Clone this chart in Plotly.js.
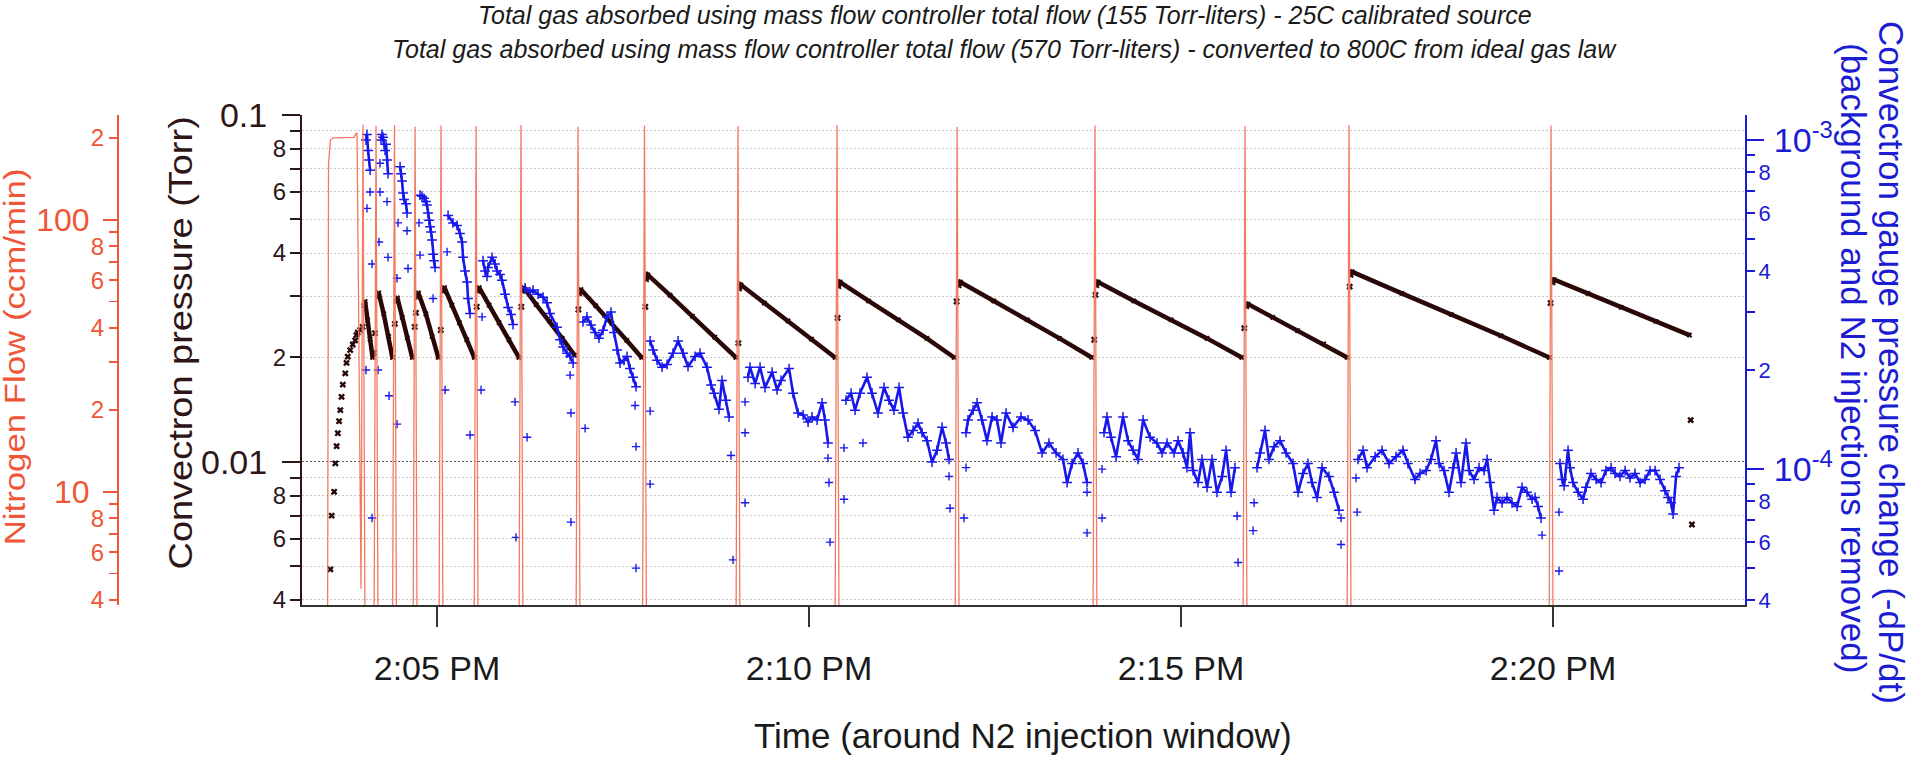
<!DOCTYPE html>
<html>
<head>
<meta charset="utf-8">
<script src="https://cdn.plot.ly/plotly-3.0.1.min.js"></script>
<style>
  html, body { margin: 0; padding: 0; background: #fff; overflow: hidden; }
  #chart { width: 1915px; height: 758px; }
  /* the two left axis captions are set in a tall, narrow face: stretch them along the text direction */
  .annotation[data-index="2"] .annotation-text { transform-box: fill-box; transform-origin: center; transform: scaleX(1.2); }
  .annotation[data-index="3"] .annotation-text { transform-box: fill-box; transform-origin: center; transform: scaleX(1.15); }
</style>
</head>
<body>
<div id="chart"></div>
<script>
// Run date (only the clock time is shown on the axis); times below are seconds after 14:00:00
const runDate = '2014-06-05';

// ---- Mass flow controller: nitrogen flow (ccm/min) ----
const n2Sec = [191, 211.5, 212.5, 214, 216, 226, 233, 234.5, 235.5, 238.7, 240.3, 242.3,
  248.8, 250.8, 252.8, 263.7, 265.7, 267.7, 280.3, 282.3, 284.3, 301.2, 303.2, 305.2,
  329.5, 331.5, 333.5, 365.7, 367.7, 369.7, 411.7, 413.7, 415.7, 465.3, 467.3, 469.3,
  540.7, 542.7, 544.7, 620.6, 622.6, 624.6, 717.4, 719.4, 721.4, 828.6, 830.6, 832.6,
  949.6, 951.6, 953.6, 1033.5, 1035.5, 1037.5, 1196.4, 1198.4, 1200.4, 1355];
const n2Flow = [1, 1, 160, 196, 200, 200, 201, 207, 208, 4.4, 224, 1,
  1, 221, 1, 1, 223, 1, 1, 220, 1, 1, 222, 1,
  1, 221, 1, 1, 223, 1, 1, 220, 1, 1, 222, 1,
  1, 221, 1, 1, 223, 1, 1, 220, 1, 1, 222, 1,
  1, 221, 1, 1, 223, 1, 1, 222, 1, 1];

// ---- Convectron pressure (Torr) ----
// initial fill
const riseSec = [214, 215, 217, 218, 219, 220, 221, 222, 223, 224, 226, 227, 228, 230, 232, 234, 235, 236, 238];
const riseTorr = [0.0049, 0.0070, 0.0082, 0.0099, 0.0111, 0.0121, 0.0131, 0.0141, 0.0154, 0.0167,
  0.0180, 0.0193, 0.0201, 0.0210, 0.0218, 0.0224, 0.0232, 0.0236, 0.0240];
// absorption decays between injections (null separates injections)
const decaySec = [
  241, 242, 244, 246, 248, null,
  252, 253, 257, 261, 264, null,
  267, 268, 272, 276, 280, null,
  284, 285, 291, 296, 301, null,
  305, 306, 312, 318, 324, 330, null,
  333, 334, 342, 350, 358, 366, null,
  369, 370, 380, 391, 401, 411, null,
  415, 416, 428, 441, 453, 465, null,
  469, 470, 488, 506, 524, 541, null,
  544, 545, 564, 583, 602, 621, null,
  624, 625, 648, 672, 695, 717, null,
  721, 722, 749, 776, 802, 828, null,
  832, 833, 862, 892, 921, 949, null,
  953, 954, 974, 994, 1015, 1034, null,
  1037, 1038, 1078, 1118, 1158, 1197, null,
  1200, 1201, 1228, 1255, 1283, 1310];
const decayTorr = [
  0.0282, 0.0290, 0.0256, 0.0226, 0.0200, null,
  0.0298, 0.0307, 0.0267, 0.0230, 0.0200, null,
  0.0290, 0.0297, 0.0261, 0.0228, 0.0200, null,
  0.0298, 0.0307, 0.0267, 0.0230, 0.0200, null,
  0.0310, 0.0318, 0.0283, 0.0252, 0.0225, 0.0200, null,
  0.0310, 0.0318, 0.0283, 0.0252, 0.0225, 0.0200, null,
  0.0310, 0.0318, 0.0284, 0.0254, 0.0227, 0.0203, null,
  0.0305, 0.0314, 0.0282, 0.0251, 0.0224, 0.0200, null,
  0.0335, 0.0346, 0.0302, 0.0263, 0.0229, 0.0200, null,
  0.0315, 0.0324, 0.0287, 0.0255, 0.0226, 0.0200, null,
  0.0320, 0.0330, 0.0291, 0.0257, 0.0227, 0.0200, null,
  0.0322, 0.0330, 0.0291, 0.0257, 0.0227, 0.0200, null,
  0.0322, 0.0330, 0.0291, 0.0257, 0.0227, 0.0200, null,
  0.0280, 0.0285, 0.0261, 0.0239, 0.0219, 0.0200, null,
  0.0345, 0.0353, 0.0306, 0.0266, 0.0231, 0.0200, null,
  0.0328, 0.0335, 0.0306, 0.0279, 0.0254, 0.0232];
// readings taken during the injections themselves
const injSec = [240, 249, 250, 266, 282, 283, 303, 332, 368, 414, 468, 543, 623, 719, 830, 831, 951, 1036, 1198, 1311, 1312];
const injTorr = [0.0245, 0.0206, 0.0235, 0.0250, 0.0245, 0.0269, 0.0240, 0.0280, 0.0280, 0.0275, 0.0280,
  0.0220, 0.0260, 0.0290, 0.0225, 0.0303, 0.0243, 0.0320, 0.0287, 0.0132, 0.0066];

// ---- -dP/dt (Torr/s), background and injections removed ----
const dpdtSec = [
  242.7, 243.5, 244.4, 245.2, 246.0, null,
  254.8, 255.6, 256.4, 258.1, 258.9, 259.7, 260.5, null,
  270.2, 271.0, 271.8, 272.6, 273.4, 275.0, 275.8, null,
  286.3, 287.9, 289.5, 291.1, 291.9, 292.7, 293.5, 294.4, 295.2, 296.0, 296.8, 297.6, 298.4, null,
  308.9, 312.9, 316.1, 318.5, 320.2, 321.0, 322.6, 324.2, 325.0, 326.6, null,
  337.1, 338.7, 340.3, 341.1, 344.4, 346.8, 348.4, 350.8, 352.4, 354.8, 357.3, 359.7, 361.3, null,
  371.0, 375.0, 377.4, 381.5, 385.5, 388.7, 391.1, 396.8, 399.2, 401.6, 404.8, 407.3, 409.7, null,
  417.7, 420.9, 424.2, 427.4, 430.6, 433.9, 437.1, 440.3, 442.7, 445.2, 447.6, 450.8, 453.2, 455.6, 458.1, 460.5, null,
  471.8, 474.2, 477.4, 481.5, 485.5, 490.3, 494.4, 498.4, 502.4, 508.1, 512.1, 517.7, 521.0, 523.4, 527.4, 529.8, 533.1, 535.5, null,
  550.8, 552.4, 556.5, 560.5, 564.5, 570.2, 574.2, 577.4, 583.9, 587.1, 591.1, 595.2, 599.2, 602.4, 606.5, 610.5, 612.9, 615.3, null,
  629.8, 633.9, 637.1, 641.1, 646.8, 650.8, 655.6, 660.5, 664.5, 668.5, 672.6, 675.8, 679.8, 683.9, 687.9, 691.1, 695.2, 699.2, 703.2, 707.3, 710.5, 712.9, null,
  726.6, 728.2, 732.3, 735.5, 739.5, 743.5, 747.6, 751.6, 754.8, 758.9, 764.5, 770.9, 776.6, 782.3, 787.9, 793.5, 799.2, 804.8, 808.1, 812.1, 816.9, 821.0, 824.2, null,
  837.9, 840.3, 843.5, 847.6, 853.2, 857.3, 861.3, 865.3, 869.4, 875.0, 880.6, 884.7, 888.7, 894.4, 897.6, 901.6, 904.8, 907.3, 909.7, 913.7, 916.9, 921.0, 925.0, 929.0, 933.1, 936.3, 940.3, 943.5, null,
  961.3, 963.7, 967.7, 970.9, 975.0, 979.8, 984.7, 990.3, 994.4, 998.4, 1002.4, 1005.6, 1009.7, 1013.7, 1019.3, 1023.4, 1027.4, null,
  1042.7, 1046.8, 1050.0, 1056.5, 1062.1, 1067.7, 1073.4, 1079.0, 1083.0, 1088.7, 1092.7, 1097.6, 1101.6, 1105.6, 1108.1, 1112.1, 1116.1, 1119.4, 1121.8, 1125.8,
  1129.8, 1132.3, 1136.3, 1140.3, 1144.4, 1146.8, 1149.2, 1152.4, 1154.8, 1158.9, 1162.9, 1166.9, 1171.0, 1175.0, 1179.0, 1183.1, 1185.5, 1187.9, 1190.3, null,
  1205.6, 1207.3, 1208.9, 1212.1, 1213.7, 1216.1, 1220.2, 1224.2, 1226.6, 1230.6, 1234.7, 1238.7, 1242.7, 1246.8, 1250.0, 1254.0, 1258.1, 1262.1, 1266.1, 1270.2,
  1274.2, 1278.2, 1282.3, 1286.3, 1290.3, 1292.7, 1295.2, 1296.8, 1299.2, 1301.6];
const dpdt = [
  1.0e-3, 1.04e-3, 9.3e-4, 8.7e-4, 8.1e-4, null,
  1.0e-3, 1.04e-3, 1.02e-3, 9.3e-4, 9.7e-4, 8.7e-4, 7.9e-4, null,
  8.3e-4, 7.9e-4, 7.5e-4, 6.9e-4, 6.6e-4, 6.4e-4, 6.0e-4, null,
  6.8e-4, 6.75e-4, 6.65e-4, 6.5e-4, 6.35e-4, 6.0e-4, 5.7e-4, 5.45e-4, 5.25e-4, 4.97e-4, 4.5e-4, 4.3e-4, 4.1e-4, null,
  5.9e-4, 5.6e-4, 5.5e-4, 5.2e-4, 4.9e-4, 4.4e-4, 4.0e-4, 3.7e-4, 3.3e-4, 2.97e-4, null,
  4.3e-4, 4.0e-4, 3.85e-4, 4.1e-4, 4.4e-4, 4.2e-4, 4.0e-4, 3.9e-4, 3.75e-4, 3.4e-4, 3.1e-4, 2.95e-4, 2.75e-4, null,
  3.55e-4, 3.45e-4, 3.5e-4, 3.4e-4, 3.33e-4, 3.2e-4, 2.97e-4, 2.7e-4, 2.47e-4, 2.35e-4, 2.25e-4, 2.2e-4, 2.1e-4, null,
  2.8e-4, 2.9e-4, 2.74e-4, 2.6e-4, 2.5e-4, 2.64e-4, 2.9e-4, 3.0e-4, 2.6e-4, 2.3e-4, 2.1e-4, 2.14e-4, 2.2e-4, 2.02e-4, 1.9e-4, 1.78e-4, null,
  2.45e-4, 2.3e-4, 2.14e-4, 2.04e-4, 2.08e-4, 2.25e-4, 2.45e-4, 2.25e-4, 2.05e-4, 2.2e-4, 2.25e-4, 2.04e-4, 1.8e-4, 1.7e-4, 1.52e-4, 1.86e-4, 1.62e-4, 1.44e-4, null,
  1.9e-4, 2.04e-4, 1.82e-4, 2.04e-4, 1.77e-4, 1.97e-4, 1.74e-4, 1.86e-4, 2.02e-4, 1.7e-4, 1.48e-4, 1.46e-4, 1.39e-4, 1.44e-4, 1.41e-4, 1.59e-4, 1.41e-4, 1.2e-4, null,
  1.62e-4, 1.7e-4, 1.51e-4, 1.7e-4, 1.9e-4, 1.7e-4, 1.48e-4, 1.77e-4, 1.62e-4, 1.51e-4, 1.77e-4, 1.48e-4, 1.25e-4, 1.31e-4, 1.38e-4, 1.29e-4, 1.22e-4, 1.05e-4, 1.14e-4, 1.34e-4, 1.2e-4, 1.07e-4, null,
  1.29e-4, 1.41e-4, 1.51e-4, 1.59e-4, 1.41e-4, 1.22e-4, 1.44e-4, 1.41e-4, 1.2e-4, 1.48e-4, 1.34e-4, 1.44e-4, 1.41e-4, 1.31e-4, 1.12e-4, 1.2e-4, 1.12e-4, 1.07e-4, 9.1e-5, 1.04e-4, 1.12e-4, 1.04e-4, 9.1e-5, null,
  1.29e-4, 1.44e-4, 1.25e-4, 1.09e-4, 1.44e-4, 1.22e-4, 1.14e-4, 1.07e-4, 1.41e-4, 1.25e-4, 1.2e-4, 1.12e-4, 1.2e-4, 1.12e-4, 1.22e-4, 1.12e-4, 1.01e-4, 1.29e-4, 9.9e-5, 9.1e-5, 1.07e-4, 8.8e-5, 1.07e-4, 8.5e-5, 9.5e-5, 1.14e-4, 8.5e-5, 1.01e-4, null,
  1.01e-4, 1.12e-4, 1.31e-4, 1.07e-4, 1.17e-4, 1.22e-4, 1.12e-4, 1.04e-4, 8.5e-5, 9.7e-5, 1.04e-4, 9.1e-5, 8.2e-5, 1.01e-4, 9.5e-5, 8.5e-5, 7.5e-5, null,
  1.07e-4, 1.14e-4, 1.01e-4, 1.09e-4, 1.14e-4, 1.04e-4, 1.09e-4, 1.14e-4, 1.04e-4, 9.3e-5, 9.7e-5, 9.9e-5, 1.07e-4, 1.22e-4, 1.04e-4, 9.9e-5, 8.5e-5, 1.01e-4, 1.12e-4, 9.1e-5,
  1.2e-4, 9.9e-5, 9.3e-5, 1.01e-4, 9.9e-5, 1.07e-4, 9.1e-5, 7.5e-5, 8.2e-5, 7.9e-5, 8.2e-5, 7.9e-5, 7.7e-5, 8.8e-5, 8.5e-5, 8.1e-5, 8.2e-5, 7.7e-5, 7.1e-5, null,
  1.04e-4, 9.3e-5, 8.9e-5, 1.14e-4, 1.01e-4, 9.1e-5, 8.5e-5, 8.1e-5, 8.8e-5, 9.7e-5, 9.3e-5, 9.1e-5, 9.9e-5, 1.01e-4, 9.7e-5, 9.5e-5, 9.9e-5, 9.4e-5, 9.7e-5, 9.1e-5,
  9.3e-5, 9.9e-5, 9.9e-5, 9.3e-5, 8.6e-5, 8.2e-5, 7.9e-5, 7.3e-5, 9.5e-5, 1.01e-4];
// isolated -dP/dt points around each injection
const strayDpdtSec = [242.7, 243.5, 246.0, 247.6, 247.6, 252.4, 253.2, 254.0, 254.0, 259.7, 260.5, 261.3,
  267.7, 267.7, 268.5, 275.8, 276.6, 285.5, 286.3, 296.8, 306.5, 308.1, 326.6, 335.5, 336.3,
  362.9, 363.7, 372.6, 407.3, 408.0, 408.0, 419.4, 459.7, 460.5, 460.5, 471.8, 471.8, 537.1, 538.7,
  548.4, 548.4, 548.4, 615.3, 616.1, 616.9, 628.2, 628.2, 643.5, 712.9, 713.7, 725.0, 726.6, 824.2, 824.2,
  836.3, 836.3, 945.2, 946.0, 958.1, 958.9, 1029.0, 1029.0, 1041.1, 1042.0, 1191.1, 1204.8, 1204.8];
const strayDpdt = [2.0e-4, 6.2e-4, 6.95e-4, 4.2e-4, 7.1e-5, 2.0e-4, 4.9e-4, 8.5e-4, 6.95e-4, 6.5e-4, 4.4e-4, 1.67e-4,
  3.8e-4, 1.37e-4, 5.6e-4, 5.3e-4, 4.07e-4, 5.6e-4, 4.47e-4, 3.3e-4, 1.74e-4, 4.57e-4, 1.27e-4, 1.74e-4, 2.9e-4,
  1.6e-4, 6.2e-5, 1.25e-4, 1.93e-4, 1.48e-4, 6.9e-5, 1.33e-4, 1.56e-4, 1.17e-4, 5.0e-5, 1.5e-4, 9.0e-5, 1.1e-4, 5.3e-5,
  1.6e-4, 1.29e-4, 7.9e-5, 1.08e-4, 9.1e-5, 6.0e-5, 1.16e-4, 8.1e-5, 1.2e-4, 9.5e-5, 7.6e-5, 7.1e-5, 1.01e-4, 8.5e-5, 6.4e-5,
  1.0e-4, 7.1e-5, 7.2e-5, 5.2e-5, 6.5e-5, 7.9e-5, 7.1e-5, 5.9e-5, 9.4e-5, 7.4e-5, 6.3e-5, 7.4e-5, 4.9e-5];

// ---- axis tick labels ----
const torrMajor = [0.01, 0.1], torrMajorText = ['0.01', '0.1'];
const torrLabeled = [0.004, 0.006, 0.008, 0.02, 0.04, 0.06, 0.08], torrLabeledText = ['4', '6', '8', '2', '4', '6', '8'];
const torrMinor = [0.004, 0.005, 0.006, 0.007, 0.008, 0.009, 0.02, 0.03, 0.04, 0.05, 0.06, 0.07, 0.08, 0.09];
const flowMajor = [10, 100], flowMajorText = ['10', '100'];
const flowLabeled = [4, 6, 8, 20, 40, 60, 80, 200], flowLabeledText = ['4', '6', '8', '2', '4', '6', '8', '2'];
const flowMinor = [4, 5, 6, 7, 8, 9, 20, 30, 40, 50, 60, 70, 80, 90, 200];
const rateMajor = [1e-4, 1e-3], rateMajorText = ['10<sup>-4</sup>', '10<sup>-3</sup>'];
const rateLabeled = [4e-5, 6e-5, 8e-5, 2e-4, 4e-4, 6e-4, 8e-4], rateLabeledText = ['4', '6', '8', '2', '4', '6', '8'];
const rateMinor = [4e-5, 5e-5, 6e-5, 7e-5, 8e-5, 9e-5, 2e-4, 3e-4, 4e-4, 5e-4, 6e-4, 7e-4, 8e-4, 9e-4];

const titleLines = [
  'Total gas absorbed using mass flow controller total flow (155 Torr-liters) - 25C calibrated source',
  'Total gas absorbed using mass flow controller total flow (570 Torr-liters) - converted to 800C from ideal gas law'
];

// seconds after 14:00:00 -> date string for the time axis
function clock(sec) {
  if (sec === null) return null;
  const tenths = Math.round(sec * 10);
  const m = Math.floor(tenths / 600);
  const s = ((tenths - m * 600) / 10).toFixed(1).padStart(4, '0');
  return runDate + ' 14:' + String(m).padStart(2, '0') + ':' + s;
}

const FONT = 'Liberation Sans, Arial, Helvetica, sans-serif';
const DARK = '#2e1616';
const RED = '#ef5637';
const BLUE = '#1c1cd2';
const DOT_BLUE = '#1818ec';
const TORR_RANGE = [-2.4125, -1];
const FLOW_RANGE = [0.5837, 2.3852];
const RATE_RANGE = [-4.413, -2.924];

const traces = [
  { // pressure decays
    type: 'scatter', mode: 'lines+markers', x: decaySec.map(clock), y: decayTorr,
    line: { color: '#2a0808', width: 4.5 }, connectgaps: false,
    marker: { symbol: 'x', size: 5, color: '#2a0808' }, hoverinfo: 'skip'
  },
  { // initial fill
    type: 'scatter', mode: 'markers', x: riseSec.map(clock), y: riseTorr,
    marker: { symbol: 'x', size: 6, color: '#2a0808' }, hoverinfo: 'skip'
  },
  { // during injections
    type: 'scatter', mode: 'markers', x: injSec.map(clock), y: injTorr,
    marker: { symbol: 'x', size: 6, color: '#2a0808' }, hoverinfo: 'skip'
  },
  { // -dP/dt
    type: 'scatter', mode: 'lines+markers', x: dpdtSec.map(clock), y: dpdt, yaxis: 'y2',
    line: { color: DOT_BLUE, width: 2.6 }, connectgaps: false,
    marker: { symbol: 'cross-thin', size: 7, line: { color: DOT_BLUE, width: 1.5 } }, hoverinfo: 'skip'
  },
  {
    type: 'scatter', mode: 'markers', x: strayDpdtSec.map(clock), y: strayDpdt, yaxis: 'y2',
    marker: { symbol: 'cross-thin', size: 6, line: { color: DOT_BLUE, width: 1.4 } }, hoverinfo: 'skip'
  },
  { // nitrogen flow
    type: 'scatter', mode: 'lines', x: n2Sec.map(clock), y: n2Flow, yaxis: 'y3',
    line: { color: '#f27a60', width: 1.3 }, hoverinfo: 'skip'
  },
  { type: 'scatter', x: [], y: [], yaxis: 'y4', hoverinfo: 'skip' },
  { type: 'scatter', x: [], y: [], yaxis: 'y5', hoverinfo: 'skip' },
  { type: 'scatter', x: [], y: [], yaxis: 'y6', hoverinfo: 'skip' }
];

const PL = 117, PR = 170, PT = 115, PB = 153;
const W = 1915, H = 758, PW = W - PL - PR, PH = H - PT - PB;
const px = v => (v - PL) / PW;           // page x -> paper x
const py = v => (H - PB - v) / PH;       // page y -> paper y

const layout = {
  width: W, height: H,
  margin: { l: PL, r: PR, t: PT, b: PB, pad: 0 },
  paper_bgcolor: '#fff', plot_bgcolor: '#fff',
  showlegend: false, hovermode: false,
  font: { family: FONT, color: '#222' },
  xaxis: {
    type: 'date', domain: [px(302), 1],
    range: [clock(191.1), clock(1354.8)],
    tickmode: 'linear', tick0: clock(300), dtick: 300000, tickformat: '%-I:%M %p',
    ticks: 'outside', ticklen: 20, tickwidth: 2, tickcolor: '#333',
    ticklabelstandoff: 12,
    tickfont: { size: 34, color: '#1a1a1a', family: FONT },
    showline: true, linecolor: '#333', linewidth: 2,
    showgrid: false, zeroline: false, fixedrange: true
  },
  yaxis: {
    type: 'log', range: TORR_RANGE, anchor: 'x', side: 'left',
    tickmode: 'array', tickvals: torrMajor, ticktext: torrMajorText,
    tickfont: { size: 34, color: DARK, family: FONT }, ticklabelstandoff: 8,
    ticks: 'outside', ticklen: 18, tickwidth: 2, tickcolor: DARK,
    showline: true, linecolor: DARK, linewidth: 2,
    showgrid: true, gridcolor: '#5a5a5a', gridwidth: 1, griddash: '2px,2px',
    minor: { tickmode: 'array', tickvals: torrMinor, ticks: 'outside', ticklen: 10, tickwidth: 2, tickcolor: DARK,
             showgrid: true, gridcolor: '#c9c9c9', gridwidth: 1, griddash: '2px,2px' },
    zeroline: false, fixedrange: true
  },
  yaxis4: {
    type: 'log', range: TORR_RANGE, anchor: 'x', side: 'left', overlaying: 'y',
    tickmode: 'array', tickvals: torrLabeled, ticktext: torrLabeledText,
    tickfont: { size: 24, color: DARK, family: FONT },
    ticks: 'outside', ticklen: 10, tickwidth: 2, tickcolor: DARK,
    showline: false, showgrid: false, zeroline: false, fixedrange: true
  },
  yaxis2: {
    type: 'log', range: RATE_RANGE, anchor: 'x', side: 'right', overlaying: 'y',
    tickmode: 'array', tickvals: rateMajor, ticktext: rateMajorText,
    tickfont: { size: 34, color: BLUE, family: FONT },
    ticks: 'outside', ticklen: 17, tickwidth: 2, tickcolor: BLUE, ticklabelstandoff: 3,
    showline: true, linecolor: BLUE, linewidth: 2,
    minor: { tickmode: 'array', tickvals: rateMinor, ticks: 'outside', ticklen: 8, tickwidth: 2, tickcolor: BLUE, showgrid: false },
    showgrid: false, zeroline: false, fixedrange: true
  },
  yaxis6: {
    type: 'log', range: RATE_RANGE, anchor: 'x', side: 'right', overlaying: 'y',
    tickmode: 'array', tickvals: rateLabeled, ticktext: rateLabeledText,
    tickfont: { size: 22, color: BLUE, family: FONT },
    ticks: 'outside', ticklen: 8, tickwidth: 2, tickcolor: BLUE,
    showline: false, showgrid: false, zeroline: false, fixedrange: true
  },
  yaxis3: {
    type: 'log', range: FLOW_RANGE, anchor: 'free', position: 0, side: 'left', overlaying: 'y',
    tickmode: 'array', tickvals: flowMajor, ticktext: flowMajorText,
    tickfont: { size: 32, color: RED, family: FONT }, ticklabelstandoff: 7,
    ticks: 'outside', ticklen: 14, tickwidth: 1.5, tickcolor: RED,
    showline: true, linecolor: RED, linewidth: 1.5,
    minor: { tickmode: 'array', tickvals: flowMinor, ticks: 'outside', ticklen: 8, tickwidth: 1.5, tickcolor: RED, showgrid: false },
    showgrid: false, zeroline: false, fixedrange: true
  },
  yaxis5: {
    type: 'log', range: FLOW_RANGE, anchor: 'free', position: 0, side: 'left', overlaying: 'y',
    tickmode: 'array', tickvals: flowLabeled, ticktext: flowLabeledText,
    tickfont: { size: 24, color: RED, family: FONT },
    ticks: 'outside', ticklen: 8, tickwidth: 1.5, tickcolor: RED,
    showline: false, showgrid: false, zeroline: false, fixedrange: true
  },
  annotations: [
    { text: '<i>' + titleLines[0] + '</i>', xref: 'paper', yref: 'paper', x: px(1005), y: py(15),
      xanchor: 'center', yanchor: 'middle', showarrow: false, font: { size: 25, color: '#1a1a1a', family: FONT } },
    { text: '<i>' + titleLines[1] + '</i>', xref: 'paper', yref: 'paper', x: px(1005), y: py(49),
      xanchor: 'center', yanchor: 'middle', showarrow: false, font: { size: 25, color: '#1a1a1a', family: FONT } },
    { text: 'Nitrogen Flow (ccm/min)', xref: 'paper', yref: 'paper', x: px(15), y: py(357), textangle: -90,
      xanchor: 'center', yanchor: 'middle', showarrow: false, font: { size: 29, color: RED, family: FONT } },
    { text: 'Convectron pressure (Torr)', xref: 'paper', yref: 'paper', x: px(180), y: py(343), textangle: -90,
      xanchor: 'center', yanchor: 'middle', showarrow: false, font: { size: 33, color: DARK, family: FONT } },
    { text: 'Convectron gauge pressure change (-dP/dt)', xref: 'paper', yref: 'paper', x: px(1892), y: py(362), textangle: 90,
      xanchor: 'center', yanchor: 'middle', showarrow: false, font: { size: 35, color: BLUE, family: FONT } },
    { text: '(background and N2 injections removed)', xref: 'paper', yref: 'paper', x: px(1854), y: py(358), textangle: 90,
      xanchor: 'center', yanchor: 'middle', showarrow: false, font: { size: 35, color: BLUE, family: FONT } },
    { text: 'Time (around N2 injection window)', xref: 'paper', yref: 'paper', x: px(1023), y: py(736),
      xanchor: 'center', yanchor: 'middle', showarrow: false, font: { size: 35, color: '#1a1a1a', family: FONT } }
  ]
};

Plotly.newPlot('chart', traces, layout, { staticPlot: true, displayModeBar: false });
</script>
</body>
</html>
